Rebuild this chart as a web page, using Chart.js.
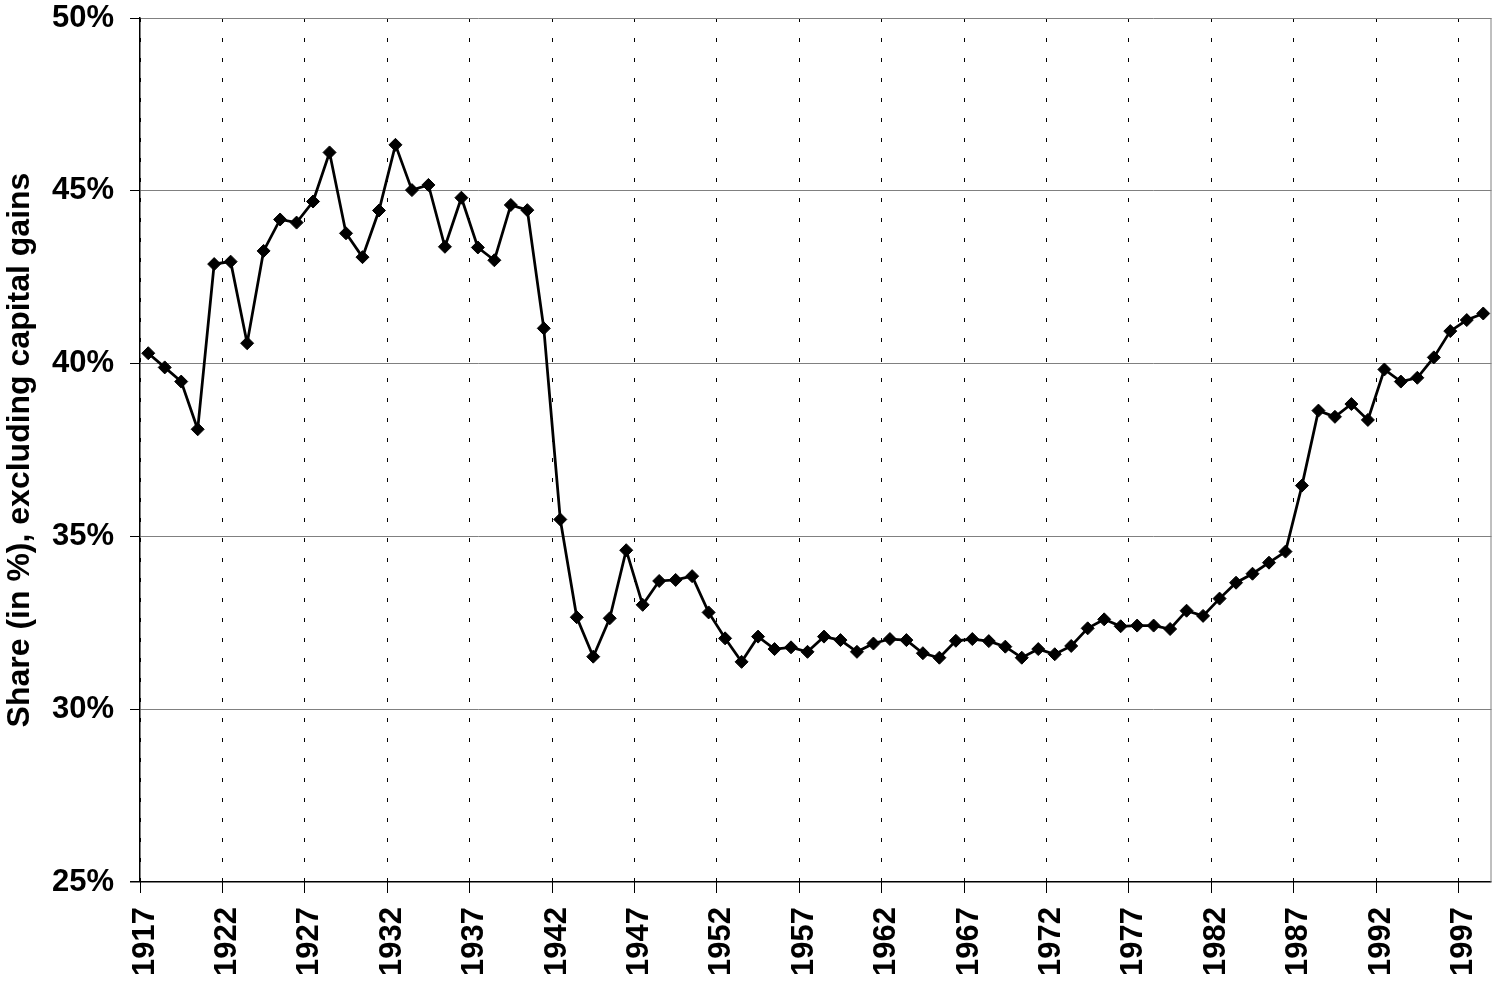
<!DOCTYPE html>
<html>
<head>
<meta charset="utf-8">
<title>Top decile income share, 1917-1998</title>
<script src="https://cdn.jsdelivr.net/npm/chart.js@4/dist/chart.umd.min.js"></script>
<style>
    html, body { margin: 0; padding: 0; background: #fff; }
    #wrap { width: 1499px; height: 984px; }
</style>
</head>
<body>
<div id="wrap"><canvas id="shareChart" width="1499" height="984"></canvas></div>
<script>
// Data
const years = [
    1917, 1918, 1919, 1920, 1921, 1922, 1923, 1924, 1925, 1926,
    1927, 1928, 1929, 1930, 1931, 1932, 1933, 1934, 1935, 1936,
    1937, 1938, 1939, 1940, 1941, 1942, 1943, 1944, 1945, 1946,
    1947, 1948, 1949, 1950, 1951, 1952, 1953, 1954, 1955, 1956,
    1957, 1958, 1959, 1960, 1961, 1962, 1963, 1964, 1965, 1966,
    1967, 1968, 1969, 1970, 1971, 1972, 1973, 1974, 1975, 1976,
    1977, 1978, 1979, 1980, 1981, 1982, 1983, 1984, 1985, 1986,
    1987, 1988, 1989, 1990, 1991, 1992, 1993, 1994, 1995, 1996,
    1997, 1998
];
const shares = [
    40.30, 39.89, 39.48, 38.10, 42.88, 42.95, 40.59, 43.26, 44.17, 44.08,
    44.69, 46.11, 43.77, 43.08, 44.43, 46.33, 45.02, 45.17, 43.38, 44.80,
    43.36, 42.99, 44.59, 44.44, 41.02, 35.49, 32.66, 31.52, 32.63, 34.60,
    33.02, 33.71, 33.74, 33.85, 32.80, 32.05, 31.37, 32.10, 31.74, 31.79,
    31.66, 32.10, 32.00, 31.66, 31.90, 32.03, 32.00, 31.62, 31.49, 31.98,
    32.03, 31.97, 31.81, 31.49, 31.74, 31.59, 31.83, 32.34, 32.60, 32.40,
    32.42, 32.42, 32.32, 32.85, 32.70, 33.20, 33.66, 33.92, 34.24, 34.56,
    36.47, 38.64, 38.46, 38.83, 38.37, 39.83, 39.48, 39.59, 40.18, 40.94,
    41.26, 41.45
];
const xTickYears = [1917, 1922, 1927, 1932, 1937, 1942, 1947, 1952, 1957,
    1962, 1967, 1972, 1977, 1982, 1987, 1992, 1997];
const yTicks = [25, 30, 35, 40, 45, 50];
const yTitle = 'Share (in %), excluding capital gains';

// each year sits in the middle of its own slot, labels sit on slot edges
const points = years.map((y, i) => ({ x: y + 0.5, y: shares[i] }));

const FONT = '"Liberation Sans", Arial, Helvetica, sans-serif';
Chart.defaults.font.family = FONT;
Chart.defaults.font.weight = 'bold';
Chart.defaults.font.size = 31;
Chart.defaults.color = '#000';

// gray frame line on the right side of the plot
const rightFrame = {
    id: 'rightFrame',
    afterDraw(chart) {
        const { ctx, chartArea } = chart;
        ctx.save();
        ctx.strokeStyle = '#808080';
        ctx.lineWidth = 1;
        ctx.beginPath();
        ctx.moveTo(chartArea.right - 0.5, chartArea.top);
        ctx.lineTo(chartArea.right - 0.5, chartArea.bottom);
        ctx.stroke();
        ctx.restore();
    }
};

const ctx = document.getElementById('shareChart').getContext('2d');
new Chart(ctx, {
    type: 'line',
    data: {
        datasets: [{
            data: points,
            borderColor: '#000',
            borderWidth: 2.75,
            pointStyle: 'rectRot',
            pointRadius: 6.5,
            pointBackgroundColor: '#000',
            pointBorderColor: '#000',
            pointBorderWidth: 1,
            tension: 0,
            clip: false
        }]
    },
    options: {
        responsive: false,
        animation: false,
        layout: { padding: { top: 18, right: 4, left: 0, bottom: 0 } },
        plugins: {
            legend: { display: false },
            tooltip: { enabled: false }
        },
        scales: {
            x: {
                type: 'linear',
                min: years[0],
                max: years[years.length - 1] + 1,
                afterBuildTicks: s => { s.ticks = xTickYears.map(v => ({ value: v })); },
                afterFit: s => {
                    s.height = 102;
                    s.paddingLeft = 0;
                    s.paddingRight = 0;
                },
                ticks: {
                    autoSkip: false,
                    minRotation: 90,
                    maxRotation: 90,
                    padding: 14,
                    labelOffset: 5,
                    callback: v => String(v)
                },
                grid: {
                    color: '#000',
                    lineWidth: 1,
                    tickLength: 11,
                    tickColor: '#000',
                    tickWidth: 1
                },
                border: { display: false, dash: [4, 16] }
            },
            y: {
                min: 25,
                max: 50,
                afterBuildTicks: s => { s.ticks = yTicks.map(v => ({ value: v })); },
                afterFit: s => {
                    s.width = 140;
                    s.paddingTop = 0;
                    s.paddingBottom = 0;
                },
                ticks: {
                    padding: 16,
                    callback: v => v + '%'
                },
                grid: {
                    color: c => (c.tick && c.tick.value === 25 ? '#000' : '#808080'),
                    lineWidth: c => (c.tick && c.tick.value === 25 ? 1.5 : 1),
                    tickLength: 10,
                    tickColor: '#000'
                },
                border: { display: true, color: '#000', width: 1.5 },
                title: {
                    display: true,
                    text: yTitle,
                    padding: { top: 1, bottom: 0 },
                    font: { size: 32, weight: 'bold' }
                }
            }
        }
    },
    plugins: [rightFrame]
});
</script>
</body>
</html>
